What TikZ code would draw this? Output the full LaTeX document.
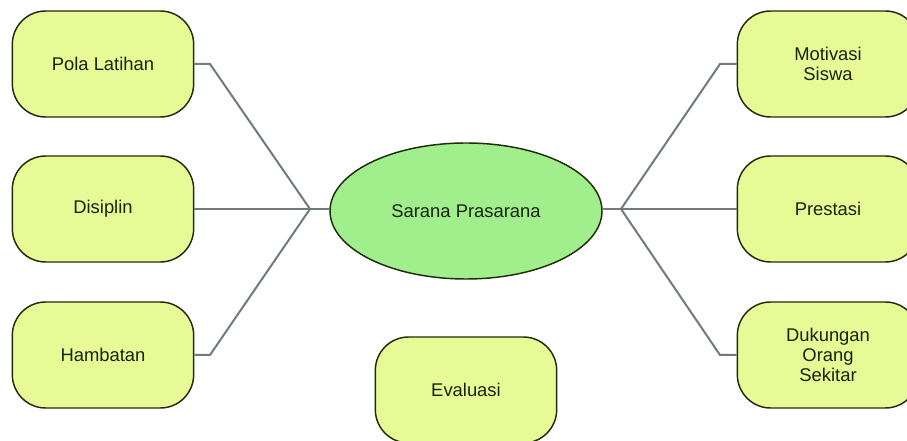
\documentclass[tikz,border=0pt]{standalone}
\usepackage{fontspec}
\setmainfont{Liberation Sans}
\usetikzlibrary{shapes.geometric}
\definecolor{boxfill}{RGB}{232,250,150}
\definecolor{ellfill}{RGB}{160,238,140}
\definecolor{edge}{RGB}{30,45,10}
\definecolor{conn}{RGB}{115,122,122}
\definecolor{txt}{RGB}{25,35,10}
\tikzset{
  x=0.75pt, y=-0.75pt,
  topic/.style={draw=edge, line width=1.1pt, fill=boxfill, rounded corners=25pt,
    minimum width=136pt, minimum height=79.5pt, inner sep=0pt, align=center,
    text=txt, font=\fontsize{13.8}{15}\selectfont},
  hub/.style={ellipse, draw=edge, line width=1.1pt, fill=ellfill,
    minimum width=204pt, minimum height=102pt, inner sep=0pt,
    text=txt, font=\fontsize{13.8}{15}\selectfont},
  link/.style={draw=conn, line width=1.5pt}
}
\begin{document}
\begin{tikzpicture}
\useasboundingbox (0,0) rectangle (907,441);
\clip (0,0) rectangle (907,441);
\fill[white] (0,0) rectangle (907,441);
\node[hub] (c) at (466,211) {Sarana Prasarana};
\node[topic] (pl) at (103,64) {Pola Latihan};
\node[topic] (di) at (103,209) {Disiplin};
\node[topic] (hb) at (103,355) {Hambatan};
\node[topic] (mv) at (828,64) {Motivasi\\Siswa};
\node[topic] (pr) at (828,209) {Prestasi};
\node[topic] (dk) at (828,355) {Dukungan\\Orang\\Sekitar};
\node[topic] (ev) at (466,390) {Evaluasi};
\coordinate (jl) at (310,209);
\coordinate (jr) at (621,209);
\draw[link] (pl.east |- 0,64) -- (210,64) -- (jl);
\draw[link] (di.east |- 0,209) -- (jl);
\draw[link] (hb.east |- 0,355) -- (210,355) -- (jl);
\draw[link] (jl) -- (c.west |- 0,209);
\draw[link] (mv.west |- 0,64) -- (720,64) -- (jr);
\draw[link] (pr.west |- 0,209) -- (jr);
\draw[link] (dk.west |- 0,355) -- (720,355) -- (jr);
\draw[link] (jr) -- (c.east |- 0,209);
\end{tikzpicture}
\end{document}
